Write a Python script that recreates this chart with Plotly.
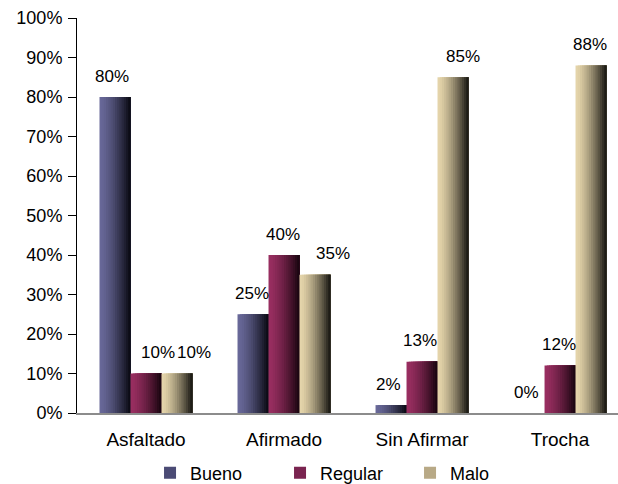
import plotly.graph_objects as go

# Road surface condition by road type (percent of length)
categories = ["Asfaltado", "Afirmado", "Sin Afirmar", "Trocha"]
series_names = ["Bueno", "Regular", "Malo"]
bueno = [80, 25, 2, 0]
regular = [10, 40, 13, 12]
malo = [10, 35, 85, 88]
y_tick_values = [0, 10, 20, 30, 40, 50, 60, 70, 80, 90, 100]
y_tick_labels = [f"{v}%" for v in y_tick_values]

series_values = [bueno, regular, malo]

# Shading: each bar goes from a light left edge to a dark right edge
light_colors = [(104, 104, 152), (152, 46, 96), (228, 212, 170)]
dark_colors = [(12, 12, 22), (28, 6, 18), (30, 28, 22)]
legend_colors = ["#4b4b75", "#7a2450", "#b8a986"]
# small horizontal nudges of the value labels (pixels)
label_dx = [[-3, -1, -3, -3], [12, -1, -2, -1], [17, 18, 10, -1]]

FONT = "Liberation Sans, Arial, sans-serif"
n_slices = 14
bar_w = 0.2246
x_pos = list(range(len(categories)))


def blend(c1, c2, t):
    return "rgb({},{},{})".format(*[round(a + (b - a) * t) for a, b in zip(c1, c2)])


fig = go.Figure()

for s, (name, vals) in enumerate(zip(series_names, series_values)):
    start = (s - 1) * bar_w - bar_w / 2
    step = bar_w / n_slices
    for k in range(n_slices):
        t = k / (n_slices - 1)
        shade = t ** 1.4
        # each slice runs to the bar's right edge; the next one overlays it
        fig.add_trace(go.Bar(
            x=x_pos, y=vals,
            width=bar_w - k * step,
            offset=start + k * step,
            marker=dict(color=blend(light_colors[s], dark_colors[s], shade), line_width=0),
            showlegend=False, hoverinfo="skip",
        ))
    # legend entry
    fig.add_trace(go.Bar(
        x=[None], y=[None], name=name,
        marker=dict(color=legend_colors[s], line_width=0),
    ))

    # value labels above each bar
    for i, v in enumerate(vals):
        fig.add_annotation(
            x=x_pos[i] + (s - 1) * bar_w, y=v,
            text=f"{v}%", showarrow=False,
            yanchor="middle", yshift=21, xshift=label_dx[s][i],
            font=dict(family=FONT, size=17, color="#000"),
        )

fig.update_layout(
    width=618, height=484,
    margin=dict(l=77, r=0, t=18, b=71, autoexpand=False),
    paper_bgcolor="white", plot_bgcolor="white",
    barmode="overlay",
    font=dict(family=FONT, color="#000"),
    legend=dict(
        orientation="h", x=0.135, xanchor="left",
        y=-0.152, yanchor="middle",
        font=dict(family=FONT, size=18, color="#000"),
        entrywidth=85, entrywidthmode="pixels",
        itemwidth=30, bgcolor="rgba(0,0,0,0)",
    ),
)

fig.update_xaxes(
    range=[-0.5, 3.42],
    tickvals=x_pos, ticktext=categories,
    showline=True, linecolor="#8c8c8c", linewidth=2,
    showgrid=False, zeroline=False, ticks="",
    tickfont=dict(family=FONT, size=19, color="#000"),
    ticklabelstandoff=8, automargin=False,
)
fig.update_yaxes(
    range=[0, 100],
    tickvals=y_tick_values, ticktext=y_tick_labels,
    showline=True, linecolor="#000", linewidth=1,
    ticks="outside", ticklen=8, tickcolor="#000",
    showgrid=False, zeroline=False,
    tickfont=dict(family=FONT, size=18, color="#000"),
    ticklabelstandoff=2, automargin=False,
)

fig.write_html("out.html")
